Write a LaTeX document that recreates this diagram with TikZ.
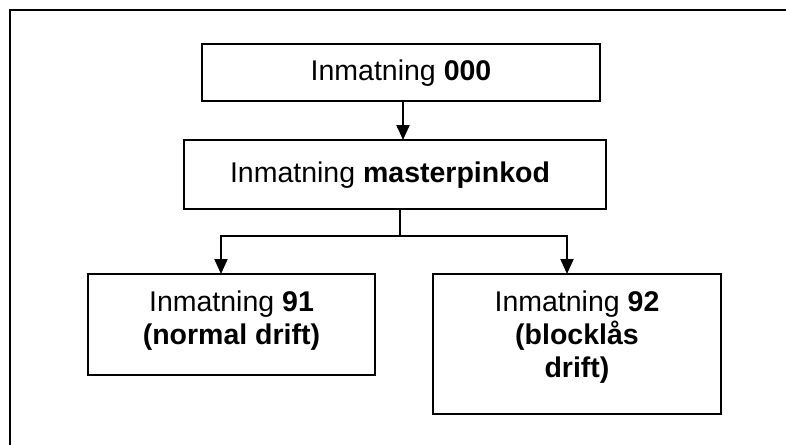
\documentclass[tikz,border=0pt]{standalone}
\usepackage{fontspec}
\setmainfont{Liberation Sans}
\usetikzlibrary{arrows.meta,calc}

\tikzset{
  box/.style={draw=black, line width=2pt, fill=white, inner sep=0pt, outer sep=0pt},
  txt/.style={font=\fontsize{28.5}{33}\selectfont, align=center, inner sep=0pt},
  flow/.style={draw=black, line width=2pt, -{Triangle[width=13pt,length=15pt]}},
  link/.style={draw=black, line width=2pt},
  frame/.style={draw=black, line width=1.4pt}
}

\begin{document}
\begin{tikzpicture}[x=1pt,y=-1pt]
  \useasboundingbox (0,0) rectangle (786,444);
  \fill[white] (0,0) rectangle (786,444);
  \clip (0,0) rectangle (786,444);

  % outer frame, open to the right and bottom
  \draw[frame] (10,460) -- (10,10) -- (800,10);

  % boxes
  \node[box, minimum width=398pt, minimum height=57pt] (b1) at (401,72.5) {};
  \node[txt] (t1) at (401,73) {Inmatning \textbf{000}};

  \node[box, minimum width=422pt, minimum height=69pt] (b2) at (394.5,174.5) {};
  \node[txt] (t2) at (390,175) {Inmatning \textbf{masterpinkod}};

  \node[box, minimum width=287pt, minimum height=101pt] (b3) at (231.5,324.5) {};
  \node[txt, anchor=north] (t3) at ([yshift=-17pt]b3.north) {Inmatning \textbf{91}\\\textbf{(normal drift)}};

  \node[box, minimum width=288pt, minimum height=140pt] (b4) at (577,344) {};
  \node[txt, anchor=north] (t4) at ([yshift=-17pt]b4.north) {Inmatning \textbf{92}\\\textbf{(blocklås}\\\textbf{drift)}};

  % connectors
  \draw[flow] ([xshift=2pt]b1.south) -- ([xshift=2pt]b1.south |- b2.north);

  \coordinate (split) at ($(b2.south)+(5.5pt,0)$);
  \coordinate (fork) at (split |- 0,236);
  \draw[link] (split) -- (fork);
  \draw[flow] (fork) -| ([xshift=-10.5pt]b3.north);
  \draw[flow] (fork) -| ([xshift=-10pt]b4.north);
\end{tikzpicture}
\end{document}
